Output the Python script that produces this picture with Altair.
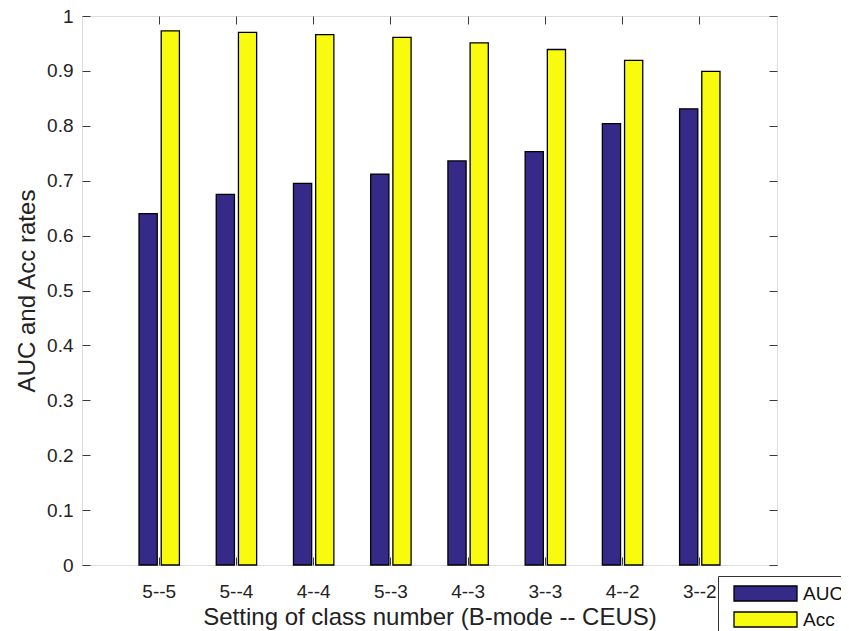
import altair as alt
import pandas as pd

categories = ["5--5", "5--4", "4--4", "5--3", "4--3", "3--3", "4--2", "3--2"]
auc_values = [0.640, 0.675, 0.695, 0.712, 0.736, 0.753, 0.804, 0.831]
acc_values = [0.973, 0.970, 0.966, 0.961, 0.951, 0.939, 0.919, 0.899]
series_names = ["AUC", "Acc"]
series_colors = ["#352a87", "#f9fb0e"]
y_ticks = [0, 0.1, 0.2, 0.3, 0.4, 0.5, 0.6, 0.7, 0.8, 0.9, 1.0]

rows = []
for c, a, b in zip(categories, auc_values, acc_values):
    rows.append({"setting": c, "metric": "AUC", "value": a})
    rows.append({"setting": c, "metric": "Acc", "value": b})
df = pd.DataFrame(rows)

FONT = "Liberation Sans"
AXC = "#3a3a3a"

x_scale = alt.Scale(domain=categories, paddingInner=0.477, paddingOuter=0.7385)
y_scale = alt.Scale(domain=[0, 1], nice=False)

bars = alt.Chart(df).mark_bar(stroke="black", strokeWidth=1.3, opacity=1).encode(
    x=alt.X("setting:N", scale=x_scale, sort=categories,
            axis=alt.Axis(title="Setting of class number (B-mode -- CEUS)", labelAngle=0,
                          domain=False, offset=-8, tickSize=8, tickColor=AXC,
                          labelPadding=17, titlePadding=4, labelFontSize=19,
                          titleFontSize=24, labelFont=FONT, titleFont=FONT,
                          labelColor="#222", titleColor="#222", titleFontWeight="normal")),
    xOffset=alt.XOffset("metric:N", sort=series_names, scale=alt.Scale(domain=series_names, paddingInner=0.18)),
    y=alt.Y("value:Q", scale=y_scale,
            axis=alt.Axis(title="AUC and Acc rates", values=y_ticks, format=".1~f",
                          domain=False, offset=-8, tickSize=8, tickColor=AXC,
                          labelPadding=9, titlePadding=7, labelFontSize=19,
                          titleFontSize=24, labelFont=FONT, titleFont=FONT,
                          labelColor="#222", titleColor="#222", titleFontWeight="normal",
                          grid=False)),
    color=alt.Color("metric:N", sort=series_names,
                    scale=alt.Scale(domain=series_names, range=series_colors),
                    legend=alt.Legend(title=None, orient="none", legendX=636, legendY=560,
                                      symbolType="M-4.2,-1L4.2,-1L4.2,1L-4.2,1Z",
                                      symbolSize=225, symbolStrokeColor="black",
                                      symbolStrokeWidth=1.3, symbolOpacity=1,
                                      labelFont=FONT, labelFontSize=19, labelColor="#111",
                                      labelOffset=28, padding=8, symbolOffset=30, rowPadding=5,
                                      strokeColor="#333", fillColor="white")),
)

mirror = alt.Chart(df).mark_point(opacity=0).encode(
    x=alt.X("setting:N", scale=x_scale, sort=categories,
            axis=alt.Axis(title=None, labels=False, domain=False, orient="top",
                          offset=-8, tickSize=8, tickColor=AXC)),
    y=alt.Y("value:Q", scale=y_scale,
            axis=alt.Axis(title=None, labels=False, domain=False, orient="right",
                          values=y_ticks, offset=-8, tickSize=8, tickColor=AXC, grid=False)),
)

chart = alt.layer(bars, mirror).resolve_axis(x="independent", y="independent").properties(
    width=695, height=549,
    autosize=alt.AutoSizeParams(type="none"),
    padding={"left": 74, "top": 8, "right": 64, "bottom": 66},
).configure_view(stroke=AXC, strokeWidth=1.6).configure(background="white")

chart.save("out.html", embed_options={"renderer": "svg", "actions": False})
